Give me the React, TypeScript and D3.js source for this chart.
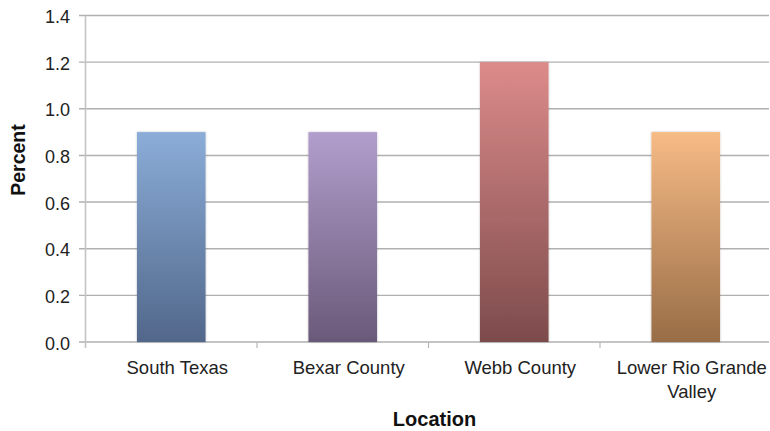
import React from "react";
import * as d3 from "d3";

const categories = ["South Texas", "Bexar County", "Webb County", "Lower Rio Grande Valley"];
const labelLines = [["South Texas"], ["Bexar County"], ["Webb County"], ["Lower Rio Grande", "Valley"]];
const values = [0.9, 0.9, 1.2, 0.9];
const yTicks = [0, 0.2, 0.4, 0.6, 0.8, 1.0, 1.2, 1.4];
const topColors = ["#8badd8", "#b29ecc", "#dc8b8a", "#f7bb86"];
const bottomColors = ["#51678a", "#6a5979", "#7d4b4c", "#986d46"];

const W = 770;
const H = 431;
const left = 85.5;
const right = 771.5;
const top = 15.5;
const bottom = 342;

export default function App() {
  const x = d3.scaleBand<string>().domain(categories).range([left, right]).paddingInner(0).paddingOuter(0);
  const y = d3.scaleLinear().domain([0, 1.4]).range([bottom, top]);
  const bw = x.bandwidth() * 0.4;
  const font = "Liberation Sans, Arial, Helvetica, sans-serif";

  return (
    <svg width={W} height={H} style={{ position: "absolute", left: 0, top: 0, background: "#fff" }}>
      <defs>
        {categories.map((c, i) => (
          <linearGradient key={c} id={`g${i}`} x1="0" y1="0" x2="0" y2="1">
            <stop offset="0" stopColor={topColors[i]} />
            <stop offset="1" stopColor={bottomColors[i]} />
          </linearGradient>
        ))}
        <filter id="sh" x="-10%" y="-5%" width="120%" height="110%">
          <feGaussianBlur in="SourceAlpha" stdDeviation="1.2" />
          <feOffset dx="0" dy="0" result="b" />
          <feComponentTransfer>
            <feFuncA type="linear" slope="0.25" />
          </feComponentTransfer>
          <feMerge>
            <feMergeNode />
            <feMergeNode in="SourceGraphic" />
          </feMerge>
        </filter>
      </defs>

      {yTicks.map((t) => (
        <g key={t}>
          <line x1={79} x2={769} y1={y(t)} y2={y(t)} stroke="#b0b0b0" strokeWidth={1.4} />
          <text x={70} y={y(t)} dy="0.42em" textAnchor="end" fontFamily={font} fontSize={18} fill="#222">
            {t.toFixed(1)}
          </text>
        </g>
      ))}

      <line x1={left} x2={left} y1={top} y2={bottom + 6} stroke="#c4c4c4" strokeWidth={1.6} />

      {categories.slice(1).map((c) => (
        <line key={c} x1={x(c)!} x2={x(c)!} y1={bottom} y2={bottom + 6} stroke="#b8b8b8" strokeWidth={1.2} />
      ))}

      {categories.map((c, i) => {
        const cx = x(c)! + x.bandwidth() / 2;
        return (
          <rect
            key={c}
            x={cx - bw / 2}
            y={y(values[i])}
            width={bw}
            height={y(0) - y(values[i])}
            fill={`url(#g${i})`}
            filter="url(#sh)"
          />
        );
      })}

      {categories.map((c, i) => {
        const cx = x(c)! + x.bandwidth() / 2 + 6;
        return (
          <text key={c} x={cx} y={374} textAnchor="middle" fontFamily={font} fontSize={18.5} fill="#222">
            {labelLines[i].map((l, j) => (
              <tspan key={j} x={cx} dy={j === 0 ? 0 : 24}>
                {l}
              </tspan>
            ))}
          </text>
        );
      })}

      <text
        transform={`translate(24.5,160) rotate(-90)`}
        textAnchor="middle"
        fontFamily={font}
        fontSize={19.5}
        fontWeight="bold"
        fill="#111"
      >
        Percent
      </text>
      <text x={434.5} y={426} textAnchor="middle" fontFamily={font} fontSize={20} fontWeight="bold" fill="#111">
        Location
      </text>
    </svg>
  );
}
